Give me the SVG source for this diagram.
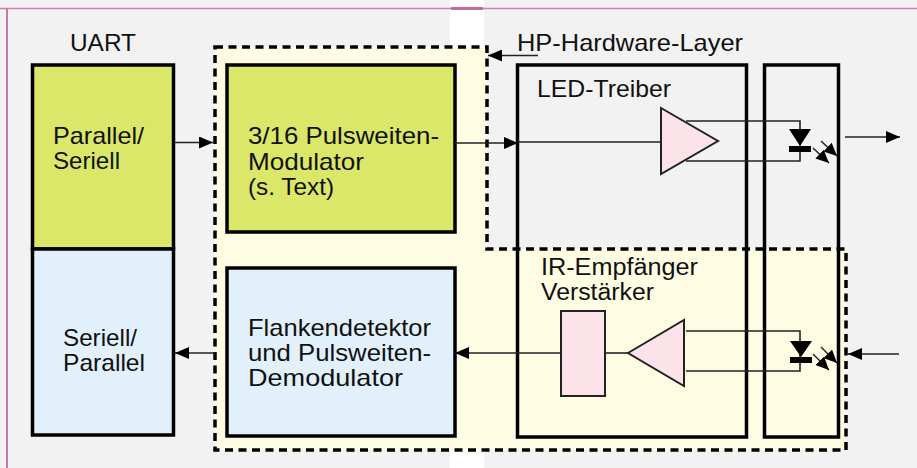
<svg xmlns="http://www.w3.org/2000/svg" width="917" height="468" viewBox="0 0 917 468">
<defs>
<marker id="ah" markerUnits="userSpaceOnUse" markerWidth="14" markerHeight="12" refX="14" refY="6" orient="auto"><path d="M0,0L14,6L0,12z" fill="#000"/></marker>
<marker id="sm" markerUnits="userSpaceOnUse" markerWidth="13" markerHeight="12" refX="13" refY="6" orient="auto"><path d="M0,0L13,6L0,12z" fill="#000"/></marker>
</defs>
<style>
text{font-family:"Liberation Sans",Arial,sans-serif;font-size:24px;fill:#111}
.box{stroke:#000;stroke-width:3.5}
.green{fill:#dae769}
.blue{fill:#e2f0fb}
.pink{fill:#fce3ea;stroke:#222;stroke-width:2}
.ln{fill:none;stroke:#222;stroke-width:1.6}
.ar{fill:none;stroke:#222;stroke-width:1.6;marker-end:url(#ah)}
.sa{fill:none;stroke:#222;stroke-width:1.5;marker-end:url(#sm)}
.dash{fill:none;stroke:#000;stroke-width:3.500;stroke-dasharray:8 5.500}
.open{fill:none;stroke:#000;stroke-width:3.5}
</style>
<rect width="917" height="468" fill="#f2f2f2"/>
<rect x="450" width="34" height="468" fill="#fff"/>
<g id="frame">
<path d="M0,8.500H917" fill="none" stroke="#cf7fb0" stroke-width="1.500"/>
<rect x="451" y="7" width="32" height="3" fill="#c567a0"/>
<path d="M7,8V468" fill="none" stroke="#c878ac" stroke-width="2"/>
</g>
<g id="region">
<path d="M215,47H487V249H846V450H215z" fill="#fefce3"/>
<path class="dash" d="M215,47H487V249H846V450H215z"/>
</g>
<g id="uart">
<rect class="box green" x="32.500" y="65" width="141" height="184"/>
<rect class="box blue" x="32.500" y="249" width="141" height="186"/>
<text x="70" y="51" textLength="66" lengthAdjust="spacingAndGlyphs">UART</text>
<text x="53" y="144" textLength="91" lengthAdjust="spacingAndGlyphs">Parallel/</text>
<text x="53" y="169" textLength="67" lengthAdjust="spacingAndGlyphs">Seriell</text>
<text x="63" y="346" textLength="74" lengthAdjust="spacingAndGlyphs">Seriell/</text>
<text x="63" y="371" textLength="82" lengthAdjust="spacingAndGlyphs">Parallel</text>
</g>
<g id="modulator">
<rect class="box green" x="227" y="65" width="228" height="167"/>
<text x="248" y="144" textLength="191" lengthAdjust="spacingAndGlyphs">3/16 Pulsweiten-</text>
<text x="248" y="169.500" textLength="116" lengthAdjust="spacingAndGlyphs">Modulator</text>
<text x="248" y="195" textLength="86" lengthAdjust="spacingAndGlyphs">(s. Text)</text>
</g>
<g id="demodulator">
<rect class="box blue" x="227" y="268" width="228" height="168"/>
<text x="248" y="336" textLength="183" lengthAdjust="spacingAndGlyphs">Flankendetektor</text>
<text x="248" y="361" textLength="183" lengthAdjust="spacingAndGlyphs">und Pulsweiten-</text>
<text x="248" y="386" textLength="155" lengthAdjust="spacingAndGlyphs">Demodulator</text>
</g>
<g id="hp-layer">
<rect class="open" x="517.500" y="65" width="229" height="372"/>
<rect class="open" x="764.500" y="65" width="74" height="372"/>
<text x="517" y="51" textLength="226" lengthAdjust="spacingAndGlyphs">HP-Hardware-Layer</text>
<text x="537" y="97" textLength="134" lengthAdjust="spacingAndGlyphs">LED-Treiber</text>
<text x="541" y="274.500" style="font-size:23px" textLength="157" lengthAdjust="spacingAndGlyphs">IR-Empfänger</text>
<text x="541" y="300" style="font-size:23px" textLength="113" lengthAdjust="spacingAndGlyphs">Verstärker</text>
</g>
<g id="connectors">
<path class="ar" d="M174,142.500H213"/>
<path class="ar" d="M455,143H518"/>
<path class="ln" d="M518,142H661"/>
<path class="ar" d="M562,353H455"/>
<path class="ar" d="M215,353H175"/>
<path class="ar" d="M538,55.500H488"/>
<path class="ln" d="M604,353H628"/>
<path class="ar" d="M845,137H900"/>
<path class="ar" d="M899,354H848"/>
<path class="ln" d="M686,121H800V161H686"/>
<path class="ln" d="M686,331H800V371H686"/>
</g>
<g id="led-driver">
<path class="pink" d="M661,108L718,141L661,174z"/>
</g>
<g id="receiver">
<rect class="pink" x="561" y="311" width="44" height="85"/>
<path class="pink" d="M628,353L684,320V386z"/>
</g>
<g id="diode-top">
<path d="M789,129H811L800,146z" fill="#000"/>
<rect x="789" y="146" width="22" height="6" fill="#000"/>
<path class="sa" d="M821,141L837,156"/>
<path class="sa" d="M813,148L829,163"/>
</g>
<g id="diode-bottom">
<path d="M790,341H812L801,357z" fill="#000"/>
<rect x="790" y="357" width="22" height="6" fill="#000"/>
<path class="sa" d="M821,347L837,363"/>
<path class="sa" d="M813,354L829,370"/>
</g>
</svg>
